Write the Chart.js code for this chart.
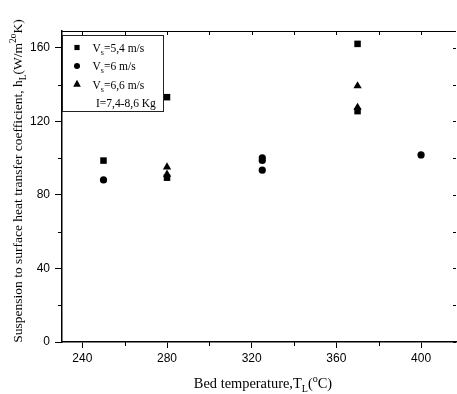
<!DOCTYPE html>
<html>
<head>
<meta charset="utf-8">
<script src="https://cdn.jsdelivr.net/npm/chart.js"></script>
<style>
  html, body { margin: 0; padding: 0; background: #fff; overflow: hidden; }
  #holder { width: 457px; height: 394px; }
</style>
</head>
<body>
<div id="holder"><canvas id="myChart"></canvas></div>
<script>
// data
const temp_54 = [250, 280, 280, 370, 370];
const h_54 = [98.7, 133.2, 89.4, 162.2, 125.6];

const temp_6 = [250, 325, 325, 325, 400];
const h_6 = [88.2, 100.2, 98.8, 93.5, 101.8];

const temp_66 = [280, 280, 370, 370];
const h_66 = [95.2, 91.2, 139.3, 127.6];

const xTicks = [240, 280, 320, 360, 400];
const xMinor = [260, 300, 340, 380];
const yTicks = [0, 40, 80, 120, 160];
const yMinor = [20, 60, 100, 140];

const serif = "'Liberation Serif', 'Times New Roman', serif";
const sans = "'Liberation Sans', Arial, sans-serif";

function toPoints(xs, ys){
    let pts = [];
    for(i = 0; i < xs.length; i++){
        pts.push({x: xs[i], y: ys[i]});
    }
    return pts;
}

// text with sub / sup parts, drawn left to right from x
function richWidth(ctx, parts, size){
    let w = 0;
    parts.forEach(p => {
        ctx.font = (p.s ? size * 0.7 : size) + "px " + serif;
        w += ctx.measureText(p.t).width;
    });
    return w;
}

function drawRich(ctx, parts, x, y, size){
    ctx.textBaseline = "alphabetic";
    ctx.textAlign = "left";
    parts.forEach(p => {
        let dy = 0;
        if(p.s == "sub") dy = size * 0.3;
        if(p.s == "sup") dy = -size * 0.4;
        ctx.font = (p.s ? size * 0.7 : size) + "px " + serif;
        ctx.fillText(p.t, x, y + dy);
        x += ctx.measureText(p.t).width;
    });
}

function marker(ctx, kind, x, y, r){
    ctx.beginPath();
    if(kind == "rect"){
        ctx.rect(x - r, y - r, 2 * r, 2 * r);
    } else if(kind == "circle"){
        ctx.arc(x, y, r, 0, Math.PI * 2);
    } else {
        ctx.moveTo(x, y - r * 1.1);
        ctx.lineTo(x + r, y + r * 0.7);
        ctx.lineTo(x - r, y + r * 0.7);
        ctx.closePath();
    }
    ctx.fill();
}

const extras = {
    id: "extras",
    afterDraw(chart){
        const ctx = chart.ctx;
        const a = chart.chartArea;
        const xs = chart.scales.x;
        const ys = chart.scales.y;
        ctx.save();
        ctx.strokeStyle = "#000";
        ctx.fillStyle = "#000";
        ctx.lineWidth = 1;

        // top frame line
        ctx.beginPath();
        ctx.moveTo(a.left, a.top + 0.5);
        ctx.lineTo(a.right, a.top + 0.5);
        ctx.stroke();

        // minor ticks left / bottom
        yMinor.forEach(v => {
            let py = Math.round(ys.getPixelForValue(v)) + 0.5;
            ctx.beginPath(); ctx.moveTo(a.left - 4, py); ctx.lineTo(a.left, py); ctx.stroke();
        });
        xMinor.forEach(v => {
            let px = Math.round(xs.getPixelForValue(v)) + 0.5;
            ctx.beginPath(); ctx.moveTo(px, a.bottom); ctx.lineTo(px, a.bottom + 4); ctx.stroke();
        });

        // top ticks, inward
        xTicks.concat(xMinor).forEach(v => {
            let px = Math.round(xs.getPixelForValue(v)) + 0.5;
            ctx.beginPath(); ctx.moveTo(px, a.top); ctx.lineTo(px, a.top + 4); ctx.stroke();
        });
        // right ticks, inward
        yTicks.concat(yMinor).forEach(v => {
            let py = Math.round(ys.getPixelForValue(v)) + 0.5;
            ctx.beginPath(); ctx.moveTo(a.right, py); ctx.lineTo(a.right - 3, py); ctx.stroke();
        });

        // legend box
        const lx = 62, ly = 35, lw = 101, lh = 76;
        ctx.fillStyle = "#fff";
        ctx.fillRect(lx, ly, lw, lh);
        ctx.strokeStyle = "#222";
        ctx.strokeRect(lx + 0.5, ly + 0.5, lw, lh);
        ctx.fillStyle = "#000";
        marker(ctx, "rect", 77, 47.5, 2.6);
        marker(ctx, "circle", 77, 66, 3);
        marker(ctx, "tri", 77, 84, 3.8);
        drawRich(ctx, [{t: "V"}, {t: "s", s: "sub"}, {t: "=5,4 m/s"}], 92.5, 51.5, 11.5);
        drawRich(ctx, [{t: "V"}, {t: "s", s: "sub"}, {t: "=6 m/s"}], 92.5, 70, 11.5);
        drawRich(ctx, [{t: "V"}, {t: "s", s: "sub"}, {t: "=6,6 m/s"}], 92.5, 88.5, 11.5);
        drawRich(ctx, [{t: "I=7,4-8,6 Kg"}], 96, 106.5, 11.5);

        // x title
        const xt = [{t: "Bed temperature,T"}, {t: "L", s: "sub"}, {t: "("}, {t: "o", s: "sup"}, {t: "C)"}];
        let w = richWidth(ctx, xt, 14.4);
        drawRich(ctx, xt, 263 - w / 2, 388, 14.4);

        // y title, rotated
        const yt = [{t: "Suspension to surface heat transfer coefficient, h"}, {t: "L", s: "sub"},
            {t: "(W/m"}, {t: "2", s: "sup"}, {t: "o", s: "sup"}, {t: "K)"}];
        ctx.translate(21.5, 181);
        ctx.rotate(-Math.PI / 2);
        w = richWidth(ctx, yt, 13.5);
        drawRich(ctx, yt, -w / 2, 0, 13.5);
        ctx.restore();
    }
};

const ctx = document.getElementById('myChart').getContext('2d');

const myChart = new Chart(ctx, {
    type: 'scatter',
    data: {
        datasets: [{
            label: 'Vs=5,4 m/s',
            data: toPoints(temp_54, h_54),
            pointStyle: 'rect',
            pointRadius: 4.6,
            backgroundColor: '#000',
            borderWidth: 0
        }, {
            label: 'Vs=6 m/s',
            data: toPoints(temp_6, h_6),
            pointStyle: 'circle',
            pointRadius: 3.6,
            backgroundColor: '#000',
            borderWidth: 0
        }, {
            label: 'Vs=6,6 m/s',
            data: toPoints(temp_66, h_66),
            pointStyle: 'triangle',
            pointRadius: 4.8,
            backgroundColor: '#000',
            borderWidth: 0
        }]
    },
    options: {
        responsive: true,
        maintainAspectRatio: false,
        animation: false,
        events: [],
        layout: { autoPadding: false, padding: { top: 31, right: 1, left: 0, bottom: 0 } },
        plugins: {
            legend: { display: false },
            tooltip: { enabled: false }
        },
        scales: {
            x: {
                type: 'linear',
                min: 230.4,
                max: 416.5,
                afterFit: s => { s.height = 52; s.paddingRight = 0; s.paddingLeft = 0; },
                afterBuildTicks: s => { s.ticks = xTicks.map(v => ({value: v})); },
                grid: { drawOnChartArea: false, drawTicks: true, tickLength: 6, color: '#000' },
                border: { color: '#000', width: 1.5 },
                ticks: { font: { family: sans, size: 12 }, color: '#000', padding: 3, maxRotation: 0 }
            },
            y: {
                min: 0,
                max: 169.2,
                afterFit: s => { s.width = 62; s.paddingTop = 0; s.paddingBottom = 0; },
                afterBuildTicks: s => { s.ticks = yTicks.map(v => ({value: v})); },
                grid: { drawOnChartArea: false, drawTicks: true, tickLength: 7, color: '#000' },
                border: { color: '#000', width: 1.5 },
                ticks: { font: { family: sans, size: 12 }, color: '#000', padding: 5 }
            }
        }
    },
    plugins: [extras]
});
</script>
</body>
</html>
